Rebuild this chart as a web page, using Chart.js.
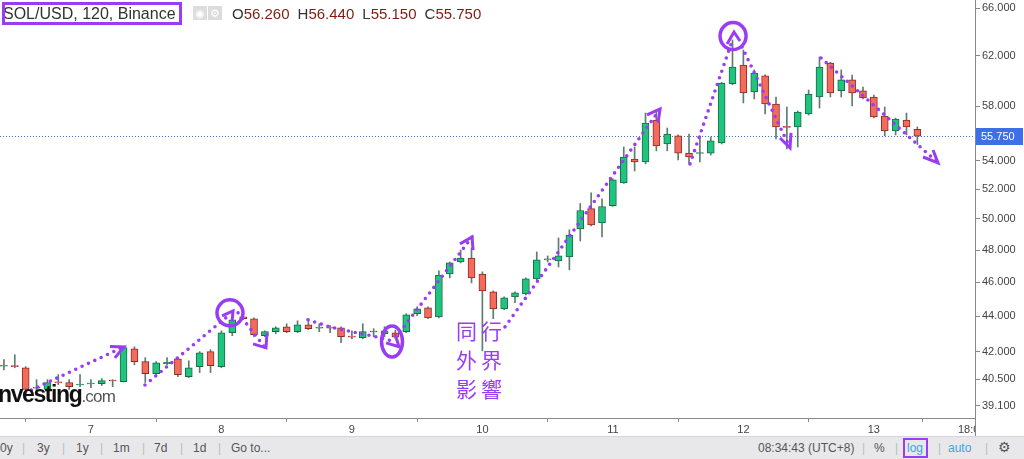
<!DOCTYPE html>
<html>
<head>
<meta charset="utf-8">
<script src="https://cdn.jsdelivr.net/npm/chart.js@4.4.1/dist/chart.umd.min.js"></script>
<style>
  body { margin: 0; background: #fff; }
  #wrap { position: relative; width: 1024px; height: 459px; overflow: hidden; font-family: "Liberation Sans", Arial, sans-serif; }
  #chart { position: absolute; left: 0; top: 0; }
  .symbol { position: absolute; left: 2px; top: 2px; width: 180px; height: 23px; box-sizing: border-box; border: 3px solid #9b3cf5; overflow: hidden; white-space: nowrap; font-size: 16px; line-height: 17px; color: #333; text-indent: -2px; }
  .icon { position: absolute; top: 6px; width: 14px; height: 14px; background: #dcdcdc; color: #fff; font-size: 11px; line-height: 14px; text-align: center; }
  .ohlc { position: absolute; left: 232px; top: 5px; font-size: 15px; color: #333; white-space: nowrap; }
  .ohlc b { font-weight: normal; color: #7e1d0f; margin-right: 8px; }
  .logo { position: absolute; left: -7px; top: 381px; white-space: nowrap; }
  .logo .a { font: bold 23px "Liberation Sans", Arial, sans-serif; letter-spacing: -1.4px; color: #111; }
  .logo .b { font: 17px "Liberation Sans", Arial, sans-serif; color: #555; letter-spacing: -0.8px; }
  .note { position: absolute; left: 456px; top: 316px; color: #9b3cf5; font: 21px "Noto Sans CJK TC", sans-serif; line-height: 29px; letter-spacing: 4px; }
  .bar { position: absolute; left: 0; top: 436px; width: 1024px; height: 23px; background: #e8e8eb; border-top: 1px solid #d6d6d9; box-sizing: border-box; font: 12px "Liberation Sans Narrow", "Liberation Sans", Arial, sans-serif; color: #555; }
  .bar span { position: absolute; top: 4px; }
  .bar .sep { color: #bbb; }
  .bar .blue { color: #3fa3dd; }
  .logbox { position: absolute; left: 903px; top: 1px; width: 25px; height: 20px; box-sizing: border-box; border: 2px solid #9b3cf5; }
</style>
</head>
<body>
<div id="wrap">
  <canvas id="chart" width="1024" height="436"></canvas>
  <div class="symbol">SOL/USD, 120, Binance</div>
  <div class="icon" style="left:193px">&#9673;</div>
  <div class="icon" style="left:208px">&#9881;</div>
  <div class="ohlc">O<b>56.260</b>H<b>56.440</b>L<b>55.150</b>C<b>55.750</b></div>
  <div class="logo"><span class="a">Investing</span><span class="b">.com</span></div>
  <div class="note">同行<br>外界<br>影響</div>
  <div class="bar">
    <span style="left:0px">0y</span><span class="sep" style="left:22px">|</span>
    <span style="left:37px">3y</span><span class="sep" style="left:62px">|</span>
    <span style="left:76px">1y</span><span class="sep" style="left:100px">|</span>
    <span style="left:113px">1m</span><span class="sep" style="left:142px">|</span>
    <span style="left:154px">7d</span><span class="sep" style="left:180px">|</span>
    <span style="left:193px">1d</span><span class="sep" style="left:218px">|</span>
    <span style="left:231px">Go to...</span>
    <span style="left:758px">08:34:43 (UTC+8)</span><span class="sep" style="left:862px">|</span>
    <span style="left:874px">%</span><span class="sep" style="left:895px">|</span>
    <span class="blue" style="left:907px">log</span><span class="sep" style="left:938px">|</span>
    <span class="blue" style="left:948px">auto</span><span class="sep" style="left:985px">|</span>
    <span style="left:998px;font-size:14px;top:2px">&#9881;</span>
    <div class="logbox"></div>
  </div>
</div>
<script>
// 2h candles, index 0 = day 6 08:00
const opens = [41.20, 41.22, 41.11, 40.02, 39.95, 40.34, 40.32, 40.19, 40.24, 40.26,
  40.44, 40.37, 42.15, 41.44, 40.79, 41.33, 41.60, 40.63, 41.17, 41.99,
  41.17, 43.05, 43.96, 43.85, 42.88, 43.11, 43.39, 43.11, 43.50, 43.31,
  43.35, 43.33, 42.85, 42.77, 43.13, 43.00, 43.05, 43.11, 44.14, 44.48,
  43.96, 46.51, 47.25, 47.50, 46.51, 45.43, 44.42, 45.13, 45.31, 46.21,
  47.38, 47.31, 47.56, 49.35, 50.69, 49.74, 50.89, 52.43, 54.11, 53.90,
  56.96, 55.19, 55.78, 54.53, 54.50, 54.53, 55.27, 59.74, 61.23, 59.11,
  60.37, 58.17, 56.49, 56.44, 57.41, 58.71, 61.39, 59.19, 60.04, 59.19,
  58.71, 57.26, 56.14, 56.96, 56.26];
const highs = [41.55, 41.82, 41.17, 40.47, 40.47, 40.74, 40.47, 40.74, 40.47, 40.53,
  40.47, 42.26, 42.26, 41.66, 41.44, 41.66, 41.66, 41.49, 41.99, 42.10,
  43.16, 43.96, 44.02, 43.90, 43.16, 43.39, 43.56, 43.73, 43.79, 43.56,
  43.45, 43.39, 43.16, 43.56, 43.28, 43.39, 43.20, 44.14, 44.54, 44.54,
  46.70, 47.25, 48.00, 48.13, 46.64, 45.49, 45.13, 45.43, 46.27, 47.88,
  47.63, 48.77, 49.29, 51.03, 51.75, 51.35, 52.71, 54.97, 54.97, 57.48,
  57.71, 56.36, 55.85, 55.92, 55.78, 55.70, 59.85, 63.28, 62.45, 60.84,
  60.45, 58.71, 57.94, 57.63, 59.25, 61.88, 61.45, 60.84, 60.43, 59.48,
  58.85, 57.94, 57.10, 57.48, 56.44];
const lows = [41.00, 41.11, 39.80, 39.69, 39.84, 40.21, 39.95, 40.10, 40.05, 40.16,
  40.10, 40.35, 41.27, 40.32, 40.74, 41.27, 40.63, 40.58, 40.85, 40.85,
  41.11, 42.88, 43.79, 42.82, 42.82, 43.00, 43.05, 43.05, 43.22, 43.11,
  43.05, 42.49, 42.71, 42.71, 42.82, 42.82, 42.70, 43.05, 44.02, 43.85,
  43.90, 46.27, 47.19, 45.97, 42.04, 43.85, 44.37, 44.78, 45.25, 46.15,
  47.25, 46.94, 46.76, 48.58, 49.55, 48.83, 50.83, 52.40, 53.26, 53.76,
  54.69, 54.69, 54.04, 53.83, 53.90, 54.39, 55.19, 59.67, 58.25, 58.56,
  57.41, 55.56, 54.83, 54.97, 57.33, 57.86, 58.71, 58.71, 58.02, 58.56,
  57.12, 55.78, 55.85, 55.85, 55.15];
const closes = [41.24, 41.17, 39.95, 40.08, 40.32, 40.30, 40.10, 40.23, 40.28, 40.42,
  40.40, 42.21, 41.44, 40.79, 41.38, 41.41, 40.74, 41.11, 41.93, 41.22,
  43.05, 43.79, 43.85, 42.94, 43.11, 43.33, 43.11, 43.50, 43.28, 43.35,
  43.31, 42.82, 42.80, 43.11, 43.09, 43.16, 42.80, 44.08, 44.42, 43.90,
  46.45, 47.19, 47.50, 46.27, 45.49, 44.42, 45.07, 45.37, 46.21, 47.38,
  47.44, 47.63, 48.96, 50.56, 49.61, 50.83, 52.64, 54.25, 53.90, 56.73,
  55.05, 55.92, 54.53, 54.25, 54.56, 55.41, 59.80, 61.07, 59.02, 60.59,
  58.17, 56.44, 56.40, 57.56, 58.94, 61.07, 59.02, 60.04, 59.02, 58.63,
  57.18, 56.14, 57.03, 56.44, 55.75];

const xTickPos = [8, 20, 32, 44, 56, 68, 80, 89];
const xTickLabels = ['7', '8', '9', '10', '11', '12', '13', '18:00'];
const yTicks = [39.1, 40.5, 42, 44, 46, 48, 50, 52, 54, 58, 62, 66];
const lastPrice = 55.75;

// hand-drawn marks, as [candle index, price]
const trendLines = [
  [[1.94, 39.77], [11.0, 42.25]],
  [[12.97, 40.19], [20.61, 44.01]],
  [[21.53, 44.19], [23.9, 42.3]],
  [[27.96, 43.79], [29.99, 43.38], [32.10, 43.09], [34.31, 42.81], [35.69, 42.59]],
  [[36.42, 43.09], [43.05, 48.83]],
  [[46.08, 43.38], [60.34, 57.79]],
  [[63.09, 53.76], [66.87, 62.95]],
  [[67.88, 62.70], [72.29, 54.90]],
  [[75.14, 61.80], [85.90, 53.83]]
];
const arrowHeads = [
  [[9.75, 42.28], [11.04, 42.25], [10.2, 41.65]],
  [[20.06, 44.01], [21.07, 44.30], [20.98, 43.67]],
  [[22.91, 42.42], [24.10, 42.20], [24.19, 43.03]],
  [[35.14, 42.48], [36.33, 42.26], [35.97, 42.98]],
  [[41.94, 48.39], [43.05, 48.83], [43.14, 48.00]],
  [[59.14, 57.34], [60.34, 57.79], [60.15, 56.74]],
  [[66.50, 62.95], [67.14, 63.95], [67.69, 63.20]],
  [[71.37, 55.62], [72.29, 54.90], [72.38, 56.00]],
  [[84.52, 54.25], [85.90, 53.83], [85.44, 54.75]]
];
const circleMarks = [[20.79, 44.19], [35.69, 42.55], [67.05, 63.61]];

const purple = '#9b3cf5';
const circleRadii = [[13, 13], [10.5, 15.5], [13, 13.5]];

const idx = opens.map((_, i) => i);
const up = idx.map(i => closes[i] >= opens[i]);

const datasets = [];
trendLines.forEach(line => {
    datasets.push({
        type: 'line',
        data: line.map(p => ({ x: p[0], y: p[1] })),
        borderColor: purple,
        borderWidth: 3.6,
        borderDash: [0, 7],
        borderCapStyle: 'round',
        pointRadius: 0,
        fill: false,
        order: 0
    });
});
arrowHeads.forEach(head => {
    datasets.push({
        type: 'line',
        data: head.map(p => ({ x: p[0], y: p[1] })),
        borderColor: purple,
        borderWidth: 3,
        borderJoinStyle: 'miter',
        pointRadius: 0,
        fill: false,
        order: 0
    });
});
datasets.push({
    type: 'bar',
    data: idx.map(i => ({ x: i, y: [opens[i], closes[i]] })),
    backgroundColor: up.map(u => u ? '#1fc47f' : '#f26b5d'),
    borderColor: up.map(u => u ? '#1b6a46' : '#8e2b22'),
    borderWidth: 1,
    borderSkipped: false,
    barThickness: 7,
    minBarLength: 1,
    grouped: false,
    order: 1
});
datasets.push({
    type: 'bar',
    data: idx.map(i => ({ x: i, y: [lows[i], highs[i]] })),
    backgroundColor: '#5e7c6f',
    barThickness: 1,
    grouped: false,
    order: 2
});

const overlay = {
    id: 'overlay',
    beforeDatasetsDraw(chart) {
        const { ctx, chartArea: a, scales: { y } } = chart;
        const py = Math.round(y.getPixelForValue(lastPrice)) + 0.5;
        ctx.save();
        ctx.strokeStyle = '#3d6fe8';
        ctx.lineWidth = 1;
        ctx.setLineDash([1, 2]);
        ctx.beginPath();
        ctx.moveTo(a.left, py);
        ctx.lineTo(a.right, py);
        ctx.stroke();
        ctx.restore();
    },
    afterDatasetsDraw(chart) {
        const { ctx, scales: { x, y } } = chart;
        ctx.save();
        ctx.strokeStyle = purple;
        ctx.lineWidth = 3.5;
        circleMarks.forEach((c, i) => {
            ctx.beginPath();
            ctx.ellipse(x.getPixelForValue(c[0]), y.getPixelForValue(c[1]), circleRadii[i][0], circleRadii[i][1], 0, 0, Math.PI * 2);
            ctx.stroke();
        });
        ctx.restore();
    },
    afterDraw(chart) {
        const { ctx, chartArea: a, scales: { y } } = chart;
        ctx.save();
        // trim the last time label at the price axis
        ctx.fillStyle = '#fff';
        ctx.fillRect(a.right + 1, a.bottom + 1, chart.width - a.right, chart.height - a.bottom);
        ctx.strokeStyle = '#888';
        ctx.lineWidth = 1;
        ctx.beginPath();
        ctx.moveTo(a.right + 0.5, a.bottom);
        ctx.lineTo(a.right + 0.5, chart.height);
        ctx.stroke();
        // last price tag
        const py = Math.round(y.getPixelForValue(lastPrice));
        ctx.fillStyle = '#3d6fe8';
        ctx.fillRect(a.right + 1, py - 8, 47, 17);
        ctx.fillStyle = '#fff';
        ctx.font = '11px "Liberation Sans", Arial, sans-serif';
        ctx.textBaseline = 'middle';
        ctx.fillText(lastPrice.toFixed(3), a.right + 6, py + 1);
        ctx.restore();
    }
};

new Chart(document.getElementById('chart'), {
    type: 'bar',
    data: { datasets: datasets },
    plugins: [overlay],
    options: {
        responsive: false,
        animation: false,
        layout: { padding: 0 },
        plugins: {
            legend: { display: false },
            tooltip: { enabled: false }
        },
        scales: {
            x: {
                type: 'linear',
                min: -0.36,
                max: 89.3,
                offset: false,
                grid: { drawOnChartArea: false, tickLength: 4, color: '#888' },
                border: { color: '#888' },
                ticks: {
                    color: '#444',
                    font: { size: 11, family: '"Liberation Sans", Arial, sans-serif' },
                    padding: 1,
                    maxRotation: 0,
                    autoSkip: false,
                    callback: v => {
                        const k = xTickPos.indexOf(v);
                        return k >= 0 ? xTickLabels[k] : '';
                    }
                },
                afterBuildTicks: scale => { scale.ticks = xTickPos.map(v => ({ value: v })); },
                afterFit: scale => { scale.height = 18; scale.paddingLeft = 0; scale.paddingRight = 0; }
            },
            y: {
                type: 'logarithmic',
                position: 'right',
                min: 38.48,
                max: 66.7,
                bounds: 'data',
                grid: { drawOnChartArea: false, tickLength: 5, color: '#888' },
                border: { color: '#888' },
                ticks: {
                    color: '#444',
                    font: { size: 11, family: '"Liberation Sans", Arial, sans-serif' },
                    padding: 2,
                    autoSkip: false,
                    callback: v => Number(v).toFixed(3)
                },
                afterBuildTicks: scale => { scale.ticks = yTicks.map(v => ({ value: v })); },
                afterFit: scale => { scale.width = 49; scale.paddingTop = 0; scale.paddingBottom = 0; }
            }
        }
    }
});
</script>
</body>
</html>
